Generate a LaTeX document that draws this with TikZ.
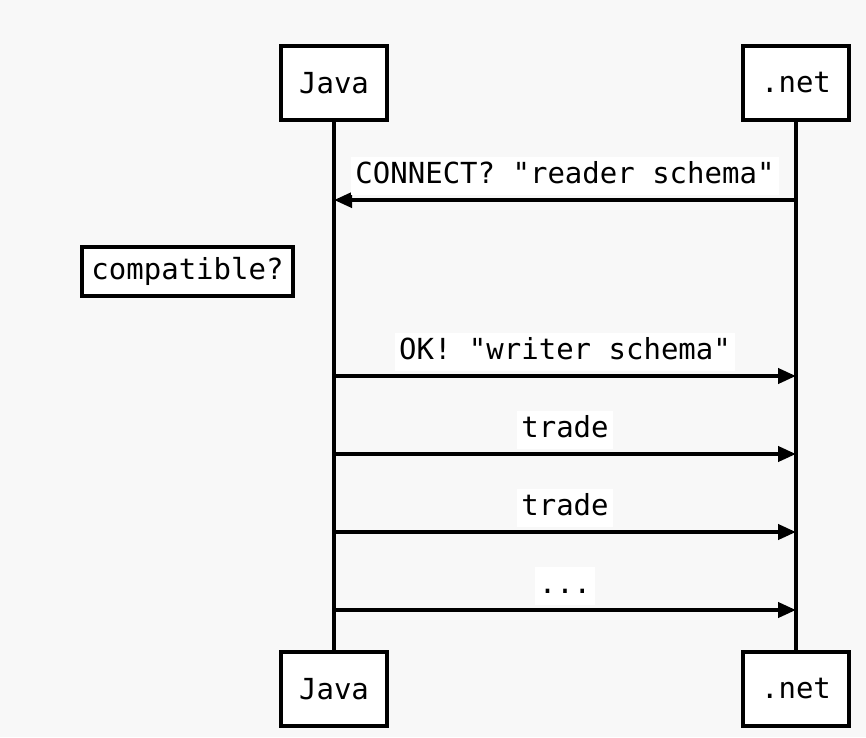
\documentclass[tikz,border=0pt]{standalone}
\usepackage{fontspec}
\setmonofont{DejaVu Sans Mono}
\usetikzlibrary{positioning, arrows.meta}
\definecolor{paper}{HTML}{F8F8F8}

\begin{document}
\begin{tikzpicture}[x=1pt, y=-1pt,
    box/.style={draw, line width=4.5pt, fill=white, minimum width=106pt,
        minimum height=74pt, font=\fontsize{29}{35}\selectfont\ttfamily},
    lbl/.style={fill=white, inner sep=4pt, text height=22pt, text depth=8pt,
        font=\fontsize{29}{35}\selectfont\ttfamily},
    msg/.style={line width=4pt, -{Triangle[length=18pt, width=15pt]}},
    life/.style={line width=4pt}]
\useasboundingbox[fill=paper] (0,0) rectangle (866,737);

\node[box] (java) at (334,83) {Java};
\node[box] (net) at (796,83) {.net};
\node[box] (javab) at (334,689) {Java};
\node[box] (netb) at (796,689) {.net};
\node[box, minimum width=211pt, minimum height=49pt] (compat) at (187.5,271.5) {compatible?};

\coordinate (j1) at (334,200);
\coordinate (n1) at (796,200);
\coordinate (j2) at (334,376);
\coordinate (n2) at (796,376);
\coordinate (j3) at (334,454);
\coordinate (n3) at (796,454);
\coordinate (j4) at (334,532);
\coordinate (n4) at (796,532);
\coordinate (j5) at (334,610);
\coordinate (n5) at (796,610);

\draw[life] (java) -- (javab);
\draw[life] (net) -- (netb);

\draw
    (n1) edge[msg] node[lbl, above=3pt]{CONNECT? "reader schema"} (j1)
    (j2) edge[msg] node[lbl, above=3pt]{OK! "writer schema"} (n2)
    (j3) edge[msg] node[lbl, above=3pt]{trade} (n3)
    (j4) edge[msg] node[lbl, above=3pt]{trade} (n4)
    (j5) edge[msg] node[lbl, above=3pt]{...} (n5)
    ;
\end{tikzpicture}
\end{document}
